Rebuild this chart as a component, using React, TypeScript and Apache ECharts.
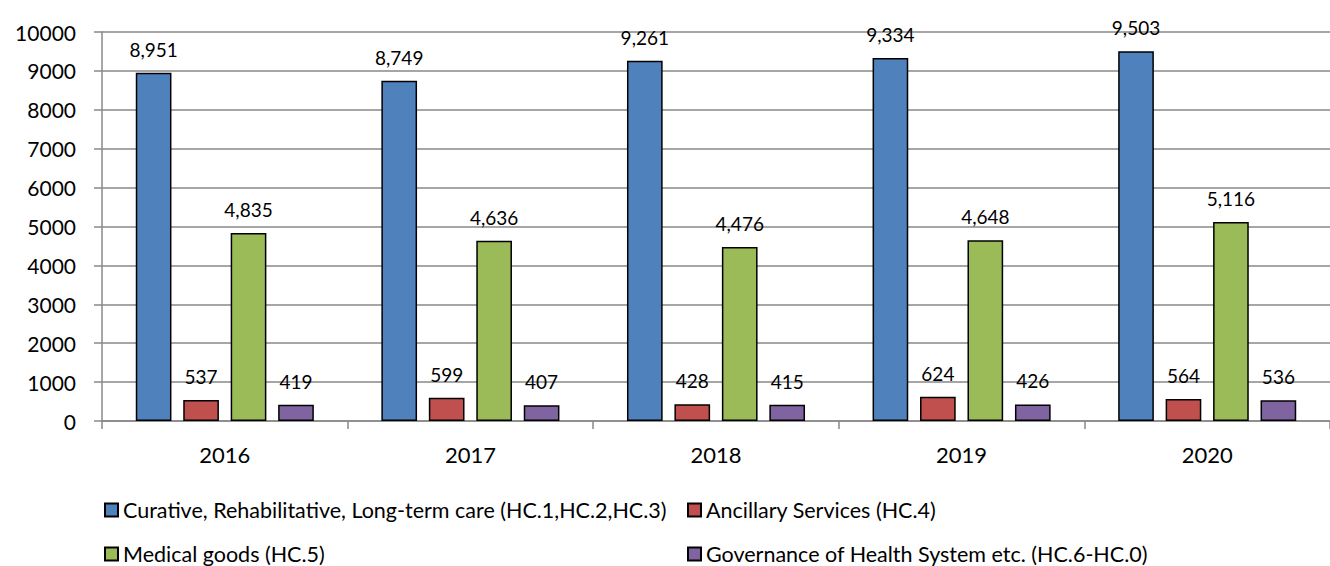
import React, { useEffect, useRef } from "react";
import * as echarts from "echarts";

const categories = ["2016", "2017", "2018", "2019", "2020"];
const seriesNames = [
  "Curative, Rehabilitative, Long-term care (HC.1,HC.2,HC.3)",
  "Ancillary Services (HC.4)",
  "Medical goods (HC.5)",
  "Governance of Health System etc. (HC.6-HC.0)",
];
const curative = [8951, 8749, 9261, 9334, 9503];
const ancillary = [537, 599, 428, 624, 564];
const medical = [4835, 4636, 4476, 4648, 5116];
const governance = [419, 407, 415, 426, 536];
const colors = ["#4F81BD", "#C0504D", "#9BBB59", "#8064A2"];
const yTicks = { min: 0, max: 10000, interval: 1000 };

const FONT = "Lato, 'Open Sans', sans-serif";

export default function App() {
  const ref = useRef<HTMLDivElement>(null);
  useEffect(() => {
    if (!ref.current) return;
    const chart = echarts.init(ref.current, null, { renderer: "svg" });
    const data = [curative, ancillary, medical, governance];
    const legendPos = [
      { left: 104, top: 499 },
      { left: 687, top: 499 },
      { left: 104, top: 543 },
      { left: 687, top: 543 },
    ];
    chart.setOption({
      animation: false,
      textStyle: { fontFamily: FONT },
      legend: seriesNames.map((n, i) => ({
        data: [n],
        left: legendPos[i].left,
        top: legendPos[i].top,
        itemWidth: 13,
        itemHeight: 13,
        itemGap: 4,
        icon: "rect",
        textStyle: { fontSize: 21.5, color: "#000", fontFamily: FONT, padding: [0, 0, 0, 0] },
        padding: 0,
      })),
      grid: { left: 102, right: 0, top: 32, bottom: 145, containLabel: false },
      xAxis: {
        type: "category",
        data: categories,
        axisLine: { lineStyle: { color: "#888", width: 1.5 } },
        axisTick: { show: true, length: 8, lineStyle: { color: "#888", width: 1.5 } },
        axisLabel: { fontSize: 22, color: "#000", margin: 22, fontFamily: FONT },
      },
      yAxis: {
        type: "value",
        min: yTicks.min,
        max: yTicks.max,
        interval: yTicks.interval,
        axisLine: { show: true, lineStyle: { color: "#888", width: 1.5 } },
        axisTick: { show: true, length: 8, lineStyle: { color: "#888", width: 1.5 } },
        splitLine: { lineStyle: { color: "#888", width: 1.5 } },
        axisLabel: {
          fontSize: 21,
          color: "#000",
          margin: 26,
          fontFamily: FONT,
          formatter: (v: number) => String(v),
        },
      },
      series: seriesNames.map((n, i) => ({
        name: n,
        type: "bar",
        data: data[i],
        barGap: "33%",
        barCategoryGap: "27.5%",
        itemStyle: { color: colors[i], borderColor: "#000", borderWidth: 1.5 },
        label: {
          show: true,
          position: "top",
          distance: 14,
          fontSize: 19,
          color: "#000",
          fontFamily: FONT,
          formatter: (p: any) => Number(p.value).toLocaleString("en-US"),
        },
      })),
    });
    return () => chart.dispose();
  }, []);
  return (
    <div
      ref={ref}
      style={{ position: "fixed", left: 0, top: 0, width: 1330, height: 566, background: "#fff" }}
    />
  );
}
